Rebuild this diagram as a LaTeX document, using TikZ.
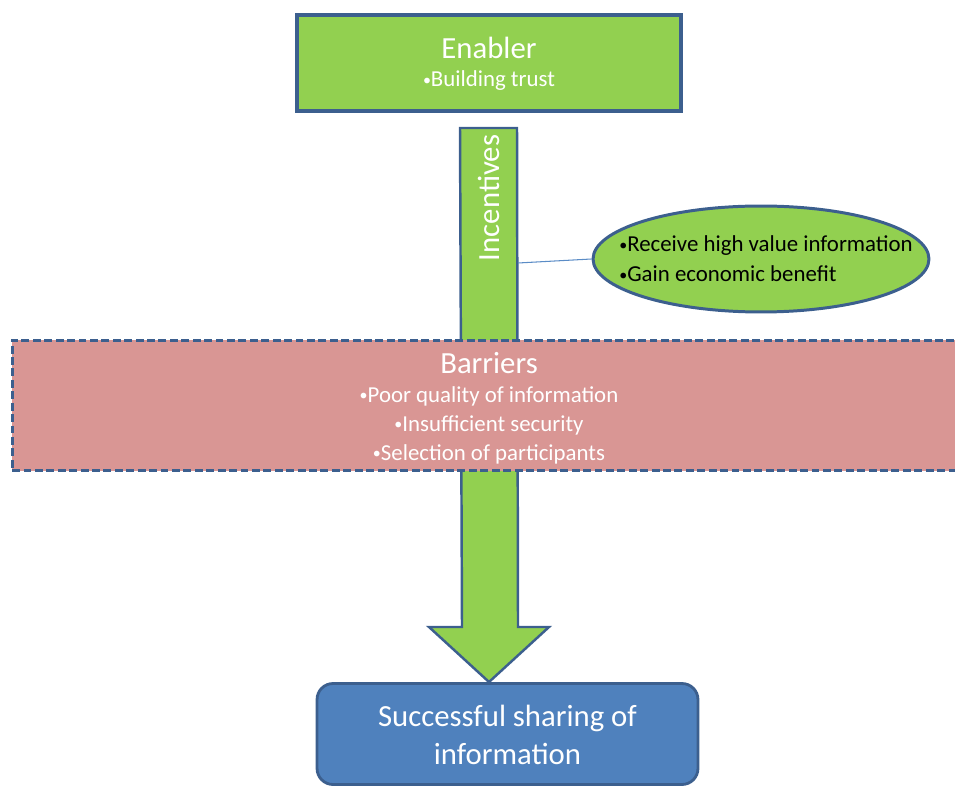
\documentclass[tikz,border=0pt]{standalone}
\usepackage{fontspec}
\setmainfont{Carlito}
\usetikzlibrary{shapes.geometric}

\definecolor{leafgreen}{HTML}{92D050}
\definecolor{edgeblue}{HTML}{3C5F8E}
\definecolor{barrierpink}{HTML}{D99694}
\definecolor{goalblue}{HTML}{4F81BD}
\definecolor{linkblue}{HTML}{5B8CC6}

\newcommand{\dotitem}{\raisebox{0.15ex}{\scalebox{0.7}{\textbullet}}}

\tikzset{
	greenbox/.style={draw=edgeblue, fill=leafgreen, line width=1.9pt, text=white, align=center, inner sep=0pt},
	barrierbox/.style={draw=edgeblue, fill=barrierpink, line width=1.7pt, dash pattern=on 4.5pt off 2pt},
	goalbox/.style={draw=edgeblue, fill=goalblue, line width=1.6pt, rounded corners=0.32cm},
	bigfont/.style={font=\fontsize{17.5}{21}\selectfont},
	itemfont/.style={font=\fontsize{13}{16}\selectfont}
}

\begin{document}
\begin{tikzpicture}[x=0.02cm, y=-0.02cm]
	\useasboundingbox (0,0) rectangle (955,786);
	\clip (0,0) rectangle (955,786);
	%					\draw[help lines, step=50](0,0)grid(955,786);
	
	\node (enabler) at (489,63)[greenbox, minimum width=7.68cm, minimum height=1.92cm]{};
	\node (enablertitle) at (489,48)[text=white, bigfont]{Enabler};
	\node (enableritem) at (489,81)[text=white, itemfont]{\dotitem Building trust};
	
	\draw [fill=leafgreen, draw=edgeblue, line width=1.4pt, line join=miter]
		(460,128)--(517,128)--(518,627)--(549,627)--(489,682)--(429,627)--(462,627)--cycle;
	\node (incentives) at (489,198)[rotate=90, text=white, bigfont]{Incentives};
	
	\coordinate (barside) at (518,263);
	\node (gains) at (761,259)[ellipse, draw=edgeblue, fill=leafgreen, line width=1.7pt, minimum width=6.72cm, minimum height=2.12cm, inner sep=0pt]{};
	\node (gainstext) at (766,259)[align=left, itemfont, inner sep=0pt]{\dotitem Receive high value information\\[1pt]\dotitem Gain economic benefit};
	\draw [linkblue, line width=0.6pt](barside)--(gains.west);
	
	\node (barriers) at (489,405.5)[barrierbox, minimum width=19.08cm, minimum height=2.62cm]{};
	\node (barriertitle) at (489,363)[text=white, bigfont]{Barriers};
	\node (barrieritems) at (489,425)[text=white, itemfont, align=center, inner sep=0pt]{\dotitem Poor quality of information\\[0.5pt]\dotitem Insufficient security\\[0.5pt]\dotitem Selection of participants};
	
	\node (success) at (507.5,734)[goalbox, minimum width=7.62cm, minimum height=2.02cm]{};
	\node (successtext) at (507.5,735)[text=white, bigfont, align=center]{Successful sharing of\\[1pt]information};
	
\end{tikzpicture}
\end{document}
